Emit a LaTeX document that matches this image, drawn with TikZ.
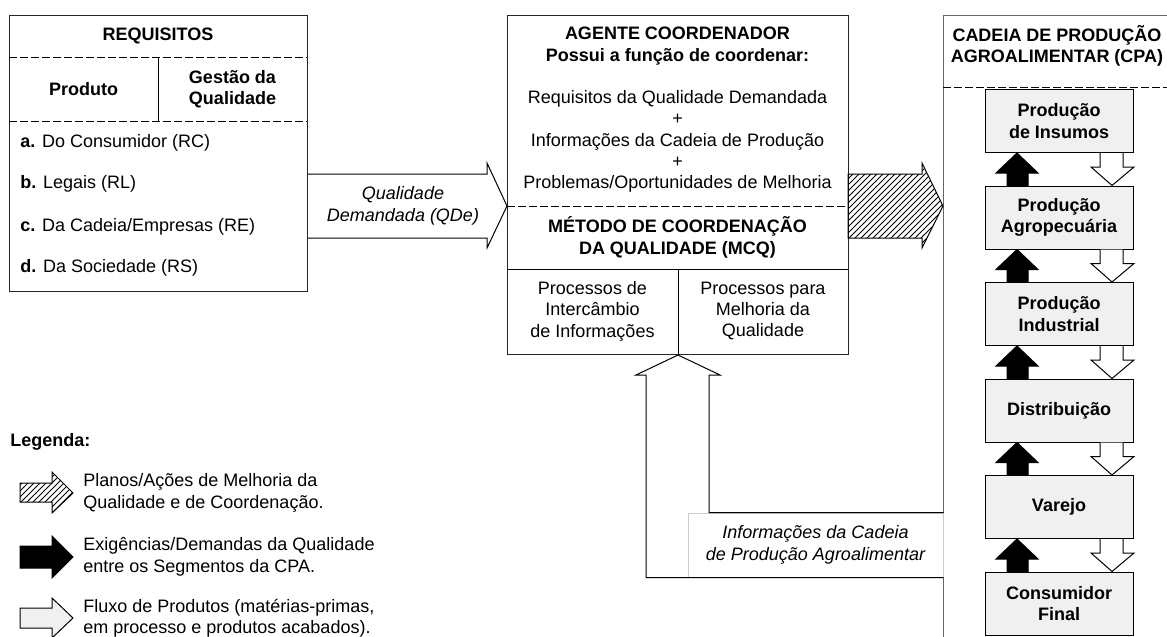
\documentclass[tikz,border=0pt]{standalone}
\usepackage{fontspec}
\setmainfont{Liberation Sans}
\usetikzlibrary{positioning, calc, patterns}
\newcommand{\diagfont}{\fontsize{9}{10.7}\selectfont}
\tikzstyle{boxframe} = [rectangle, draw=black!85, line width=0.5pt, inner sep=0pt, anchor=north west]
\tikzstyle{divider} = [line width=0.5pt, dash pattern=on 4pt off 1.5pt]
\tikzstyle{solidrule} = [line width=0.5pt]
\tikzstyle{heading} = [font=\diagfont\bfseries, align=center, inner sep=0pt]
\tikzstyle{plain} = [font=\diagfont, align=center, inner sep=0pt]
\tikzstyle{listitem} = [font=\diagfont, anchor=west, inner sep=0pt]
\tikzstyle{note} = [font=\diagfont\itshape, align=center, inner sep=0pt]
\tikzstyle{infonote} = [font=\diagfont\itshape, align=center, inner sep=0pt, fill=white, draw=gray!40, line width=0.5pt]
\tikzstyle{legtext} = [font=\diagfont, align=left, anchor=west, inner sep=0pt]
\tikzstyle{segment} = [rectangle, draw=black, line width=0.5pt, fill=gray!12, minimum width=74pt, minimum height=31.5pt, inner sep=0pt, font=\diagfont\bfseries, align=center]
\tikzstyle{openarrow} = [draw=black, line width=0.5pt]
\tikzstyle{hatcharrow} = [draw=black, line width=0.5pt, pattern=north east lines]
\tikzstyle{blackarrow} = [draw=black, line width=0.5pt, fill=black]
\tikzstyle{flowarrow} = [draw=black, line width=0.5pt, fill=white]

\begin{document}
\begin{tikzpicture}[x=0.5pt, y=-0.5pt]
  \useasboundingbox (0,0) rectangle (1167,637);

  %% Requisitos
  \node[boxframe, minimum width=149pt, minimum height=138pt] (req) at (9,15) {};
  \node[heading] (reqt) at (158,36) {REQUISITOS};
  \draw[divider] (9,57) -- (307,57);
  \draw[divider] (9,121) -- (307,121);
  \draw[solidrule] (158,57) -- (158,121);
  \node[heading] (prod) at (83.5,89) {Produto};
  \node[heading] (gest) at (232.5,89) {Gestão da\\Qualidade};
  \node[listitem] (rc) at (20,143) {\textbf{a.} Do Consumidor (RC)};
  \node[listitem] (rl) at (20,184) {\textbf{b.} Legais (RL)};
  \node[listitem] (re) at (20,227) {\textbf{c.} Da Cadeia/Empresas (RE)};
  \node[listitem] (rs) at (20,268) {\textbf{d.} Da Sociedade (RS)};

  %% Agente coordenador
  \node[boxframe, minimum width=170.5pt, minimum height=169.5pt] (coord) at (507,15) {};
  \coordinate (midw) at (507,206);
  \coordinate (mide) at (848,206);
  \node[heading] (agent) at (677.5,46) {AGENTE COORDENADOR\\Possui a função de coordenar:};
  \node[plain] (needs) at (677.5,141.5) {Requisitos da Qualidade Demandada\\+\\Informações da Cadeia de Produção\\+\\Problemas/Oportunidades de Melhoria};
  \draw[divider] (midw) -- (mide);
  \node[heading] (mcq) at (677.5,237.5) {MÉTODO DE COORDENAÇÃO\\DA QUALIDADE (MCQ)};
  \draw[solidrule] (507,269) -- (848,269);
  \draw[solidrule] (678,269) -- (coord.south);
  \node[plain] (pii) at (592.5,311) {Processos de\\Intercâmbio\\de Informações};
  \node[plain] (pmq) at (763,311) {Processos para\\Melhoria da\\Qualidade};

  %% Cadeia de producao
  \node[boxframe, draw=black!60, line width=0.7pt, minimum width=116pt, minimum height=315pt] (cpa) at (943,15) {};
  \node[heading] (cpat) at (1057,46) {CADEIA DE PRODUÇÃO\\AGROALIMENTAR (CPA)};
  \draw[divider] (943,87) -- (1175,87);
  \node[segment] (ins) at (1059,121) {Produção\\de Insumos};
  \node[segment, below=16.25pt of ins] (agro) {Produção\\Agropecuária};
  \node[segment, below=16.25pt of agro] (ind) {Produção\\Industrial};
  \node[segment, below=16.25pt of ind] (dist) {Distribuição};
  \node[segment, below=16.25pt of dist] (var) {Varejo};
  \node[segment, below=16.25pt of var] (cons) {Consumidor\\Final};

  %% Setas entre os segmentos
  \foreach \a/\b in {ins/agro, agro/ind, ind/dist, dist/var, var/cons} {
    \draw[blackarrow] ($(\a.south)+(-42,0)$) -- ($(\a.south)+(-21,20)$) -- ($(\a.south)+(-31,20)$) -- ($(\b.north)+(-31,0)$) -- ($(\b.north)+(-52,0)$) -- ($(\a.south)+(-52,20)$) -- ($(\a.south)+(-63,20)$) -- cycle;
    \draw[flowarrow] ($(\a.south)+(41,0)$) -- ($(\a.south)+(41,14)$) -- ($(\a.south)+(32,14)$) -- ($(\b.north)+(53,0)$) -- ($(\a.south)+(75,14)$) -- ($(\a.south)+(64,14)$) -- ($(\a.south)+(64,0)$);
  }

  %% Connections
  \draw[openarrow] ($(req.east |- midw)+(0,-32)$) -- ($(midw)+(-20,-32)$) -- ($(midw)+(-20,-43)$) -- (midw) -- ($(midw)+(-20,42)$) -- ($(midw)+(-20,32)$) -- ($(req.east |- midw)+(0,32)$);
  \node[note] (qde) at (403,206) {Qualidade\\Demandada (QDe)};
  \draw[hatcharrow] ($(mide)+(0,-32)$) -- ($(mide)+(74,-32)$) -- ($(mide)+(74,-43)$) -- (cpa.west |- mide) -- ($(mide)+(74,42)$) -- ($(mide)+(74,32)$) -- ($(mide)+(0,32)$) -- cycle;

  \node[infonote, minimum width=127.5pt, minimum height=32pt] (info) at (815.5,545) {Informações da Cadeia\\de Produção Agroalimentar};
  \coordinate (shr) at ($(coord.south)+(31,20)$);
  \coordinate (shl) at ($(coord.south)+(-32,20)$);
  \draw[openarrow] (info.north east) -- (shr |- info.north) -- (shr) -- ($(shr)+(11,0)$) -- (coord.south) -- ($(shl)+(-10,0)$) -- (shl) -- (shl |- info.south) -- (info.south east);

  %% Legenda
  \node[heading, anchor=west] (leg) at (10,442) {Legenda:};
  \node[legtext] (lplan) at (83,493) {Planos/Ações de Melhoria da\\Qualidade e de Coordenação.};
  \node[legtext] (ldem) at (83,557) {Exigências/Demandas da Qualidade\\entre os Segmentos da CPA.};
  \node[legtext] (lflux) at (83,618) {Fluxo de Produtos (matérias-primas,\\em processo e produtos acabados).};
  \draw[hatcharrow] ($(lplan.west)+(-10,0)$) -- ++(-21,-21) -- ++(0,11) -- ++(-32,0) -- ++(0,19) -- ++(32,0) -- ++(0,11) -- cycle;
  \draw[blackarrow] ($(ldem.west)+(-10,0)$) -- ++(-21,-21) -- ++(0,10) -- ++(-32,0) -- ++(0,22) -- ++(32,0) -- ++(0,10) -- cycle;
  \draw[flowarrow, fill=gray!12] ($(lflux.west)+(-10,0)$) -- ++(-21,-20) -- ++(0,10) -- ++(-32,0) -- ++(0,20) -- ++(32,0) -- ++(0,10) -- cycle;
\end{tikzpicture}
\end{document}
